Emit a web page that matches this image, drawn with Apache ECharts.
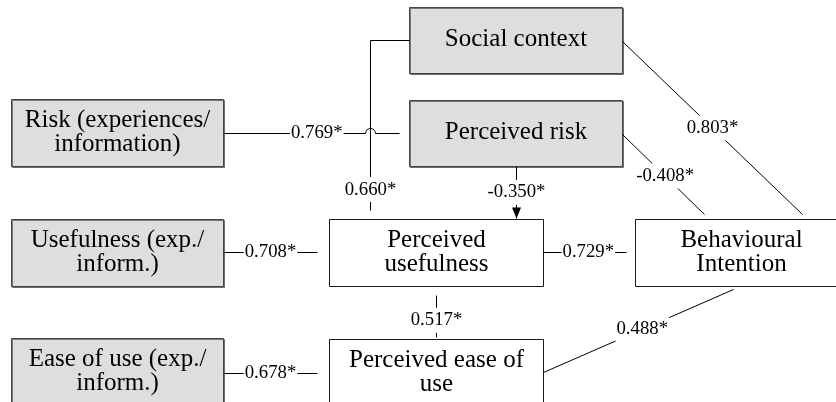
<!DOCTYPE html>
<html>
<head>
<meta charset="utf-8">
<title>Path model</title>
<script src="https://cdn.jsdelivr.net/npm/echarts@6/dist/echarts.min.js"></script>
<style>
  html, body { margin: 0; padding: 0; background: #fff; }
  #main { width: 836px; height: 402px; }
</style>
</head>
<body>
<div id="main"></div>
<script>
// constructs of the model
const nodeNames = [
  'Risk (experiences/\ninformation)',
  'Social context',
  'Perceived risk',
  'Usefulness (exp./\ninform.)',
  'Perceived\nusefulness',
  'Behavioural\nIntention',
  'Ease of use (exp./\ninform.)',
  'Perceived ease of\nuse'
]
const nodeKinds = ['shaded', 'shaded', 'shaded', 'shaded', 'plain', 'plain', 'shaded', 'plain']

// paths and their standardized coefficients
const edgeSources = [0, 1, 2, 1, 2, 3, 4, 6, 7, 7]
const edgeTargets = [2, 4, 4, 5, 5, 4, 5, 7, 4, 5]
const pathCoefficients = [0.769, 0.660, -0.350, 0.803, -0.408, 0.708, 0.729, 0.678, 0.517, 0.488]
const significant = [true, true, true, true, true, true, true, true, true, true]

// ---- drawing layout (diagram units = pixels) ----
const boxLayout = [
  [11, 99, 223, 166],
  [409, 7, 622, 73],
  [409, 100, 622, 166],
  [11, 219, 223, 286],
  [329, 219, 543, 286],
  [635, 219, 847, 286],
  [11, 338, 223, 405],
  [329, 339, 543, 406]
]
const edgeRoutes = [
  [[223, 133], [399, 133]],
  [[409, 40], [370, 40], [370, 210]],
  [[516, 166], [516, 218]],
  [[622, 41], [802, 214]],
  [[622, 134], [704, 214]],
  [[223, 252], [317, 252]],
  [[543, 252], [626, 252]],
  [[223, 373], [317, 373]],
  [[436, 295], [436, 337]],
  [[543, 372], [733, 289]]
]
const labelAt = [0.53, 0.9, 0.5, 0.5, 0.52, 0.5, 0.54, 0.5, 0.59, 0.52]
const edgeArrow = [false, false, true, false, false, false, false, false, false, false]
const edgeHops = [[370, 133, 5], null, null, null, null, null, null, null, null, null]

const kindStyle = {
  shaded: {fill: '#dedede', stroke: '#444444', shadowColor: 'rgba(0,0,0,0.45)', shadowOffsetX: 1, shadowOffsetY: 1},
  plain: {fill: '#ffffff', stroke: '#1a1a1a'}
}
const serif = '"Liberation Serif", "Times New Roman", Times, serif'
const ink = '#000'

function crisp(v) {
  return Math.round(v) + 0.5
}

function renderBox(params, api) {
  const i = params.dataIndex
  const b = boxLayout[i]
  const p0 = api.coord([b[0], b[1]])
  const p1 = api.coord([b[2], b[3]])
  const x = crisp(p0[0]), y = crisp(p0[1])
  const w = Math.round(p1[0] - p0[0]), h = Math.round(p1[1] - p0[1])
  return {
    type: 'group',
    children: [
      {
        type: 'rect',
        shape: {x: x, y: y, width: w, height: h},
        style: Object.assign({lineWidth: 1}, kindStyle[nodeKinds[i]])
      },
      {
        type: 'text',
        x: x + w / 2,
        y: y + h / 2 - 1,
        z2: 5,
        style: {
          text: nodeNames[i],
          fontFamily: serif,
          fontSize: 25,
          fill: ink,
          align: 'center',
          verticalAlign: 'middle',
          lineHeight: 24
        }
      }
    ]
  }
}

function pointAlong(pts, t) {
  let total = 0
  const lens = []
  for (let k = 1; k < pts.length; k++) {
    const l = Math.hypot(pts[k][0] - pts[k - 1][0], pts[k][1] - pts[k - 1][1])
    lens.push(l)
    total += l
  }
  let d = total * t
  for (let k = 1; k < pts.length; k++) {
    if (d <= lens[k - 1] || k === pts.length - 1) {
      const f = lens[k - 1] ? d / lens[k - 1] : 0
      return [pts[k - 1][0] + (pts[k][0] - pts[k - 1][0]) * f, pts[k - 1][1] + (pts[k][1] - pts[k - 1][1]) * f]
    }
    d -= lens[k - 1]
  }
  return pts[0]
}

function renderEdge(params, api) {
  const i = params.dataIndex
  const pts = edgeRoutes[i].map(p => api.coord(p)).map(p => [crisp(p[0]), crisp(p[1])])
  const lineStyle = {stroke: '#000', lineWidth: 1, fill: null}
  const children = []
  const hop = edgeHops[i]
  if (hop) {
    const c = api.coord([hop[0], hop[1]])
    const cx = crisp(c[0]), cy = crisp(c[1]), r = hop[2]
    children.push({type: 'line', shape: {x1: pts[0][0], y1: pts[0][1], x2: cx - r, y2: cy}, style: lineStyle})
    children.push({type: 'arc', shape: {cx: cx, cy: cy, r: r, startAngle: Math.PI, endAngle: 2 * Math.PI, clockwise: true}, style: lineStyle})
    children.push({type: 'line', shape: {x1: cx + r, y1: cy, x2: pts[pts.length - 1][0], y2: pts[pts.length - 1][1]}, style: lineStyle})
  } else {
    children.push({type: 'polyline', shape: {points: pts}, style: lineStyle})
  }
  if (edgeArrow[i]) {
    const a = pts[pts.length - 2], b = pts[pts.length - 1]
    const ang = Math.atan2(b[1] - a[1], b[0] - a[0])
    const len = 11, half = 4.5
    const bx = b[0] - Math.cos(ang) * len, by = b[1] - Math.sin(ang) * len
    children.push({
      type: 'polygon',
      z2: 20,
      shape: {points: [
        [b[0], b[1]],
        [bx + Math.sin(ang) * half, by - Math.cos(ang) * half],
        [bx - Math.sin(ang) * half, by + Math.cos(ang) * half]
      ]},
      style: {fill: '#000'}
    })
  }
  const lp = pointAlong(pts, labelAt[i])
  children.push({
    type: 'text',
    x: lp[0],
    y: lp[1],
    z2: 10,
    style: {
      text: pathCoefficients[i].toFixed(3) + (significant[i] ? '*' : ''),
      fontFamily: serif,
      fontSize: 18.8,
      fill: ink,
      align: 'center',
      verticalAlign: 'middle',
      backgroundColor: '#fff',
      padding: [3, 1]
    }
  })
  return {type: 'group', children: children}
}

const chart = echarts.init(document.getElementById('main'))
const option = {
  animation: false,
  grid: {left: 0, right: 0, top: 0, bottom: 0},
  xAxis: {type: 'value', min: 0, max: 836, show: false},
  yAxis: {type: 'value', min: 0, max: 402, inverse: true, show: false},
  series: [
    {
      type: 'custom',
      name: 'constructs',
      renderItem: renderBox,
      data: nodeNames.map((name, i) => ({name: name, value: [i, 0]})),
      z: 2
    },
    {
      type: 'custom',
      name: 'paths',
      renderItem: renderEdge,
      data: pathCoefficients.map((v, i) => ({name: nodeNames[edgeSources[i]] + ' -> ' + nodeNames[edgeTargets[i]], value: [i, v]})),
      z: 3
    }
  ]
}
chart.setOption(option)
</script>
</body>
</html>
